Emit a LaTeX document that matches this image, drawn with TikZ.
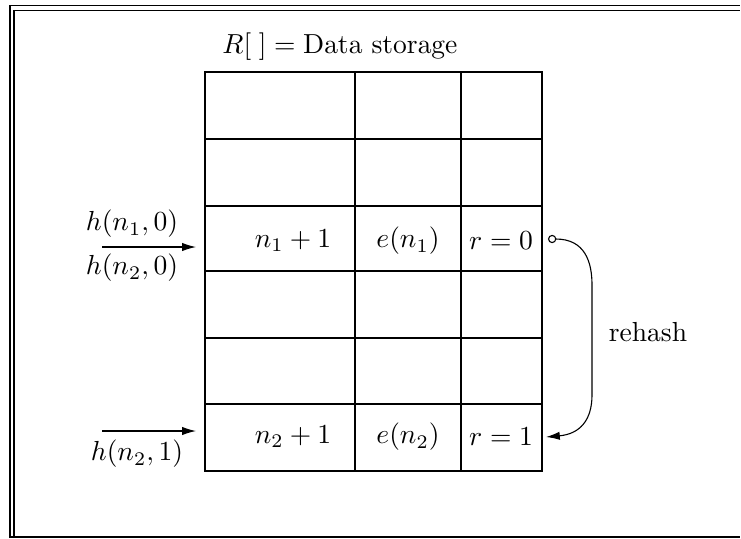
\documentclass[tikz,border=0pt]{standalone}
\usetikzlibrary{arrows.meta}
\begin{document}
\begin{tikzpicture}[x=0.363pt,y=-0.363pt,
  grid/.style={line width=0.4pt},
  frame/.style={line width=0.5pt},
  lbl/.style={inner sep=0pt},
  cell/.style={inner sep=0pt},
  feed/.style={line width=0.4pt,-{Latex[length=5pt,width=3pt]}}]
\useasboundingbox (0,0) rectangle (741,538);
% frame
\draw[frame] (10,538) -- (10,5.5) -- (740,5.5);
\draw[frame] (14,538) -- (14,10.5) -- (740,10.5);
\draw[frame] (10,537) -- (740,537);
% table
\draw[grid] (205,72) rectangle (542,471);
\foreach \y in {139,206,271,338,404} \draw[grid] (205,\y) -- (542,\y);
\draw[grid] (355,72) -- (355,471);
\draw[grid] (461,72) -- (461,471);
\node[lbl] (title) at (340,47) {$R[\;]=\mathrm{Data\ storage}$};
% row contents
\node[cell] (k1) at (293,241) {$n_1+1$};
\node[cell] (e1) at (408,241) {$e(n_1)$};
\node[cell] (r1) at (501,241) {$r=0$};
\node[cell] (k2) at (293,437) {$n_2+1$};
\node[cell] (e2) at (408,437) {$e(n_2)$};
\node[cell] (r2) at (501,437) {$r=1$};
% input arrows
\coordinate (a1s) at (102,247);
\coordinate (a1e) at (196,247);
\draw[feed] (a1s) -- (a1e);
\node[lbl] (h10) at (132,224) {$h(n_1,0)$};
\node[lbl] (h20) at (132,268) {$h(n_2,0)$};
\coordinate (a2s) at (102,431);
\coordinate (a2e) at (196,431);
\draw[feed] (a2s) -- (a2e);
\node[lbl] (h21) at (137,454) {$h(n_2,1)$};
% rehash
\coordinate (rs) at (548,239);
\coordinate (re) at (546,437);
\draw[line width=0.4pt,{Circle[open,length=3pt,width=3pt]}-{Latex[length=5pt,width=3pt]}]
  (rs) .. controls (585,239) and (592,262) .. (592,285) -- (592,395)
  .. controls (592,420) and (580,434) .. (re);
\node[lbl] (rh) at (648,332) {rehash};
\end{tikzpicture}
\end{document}
